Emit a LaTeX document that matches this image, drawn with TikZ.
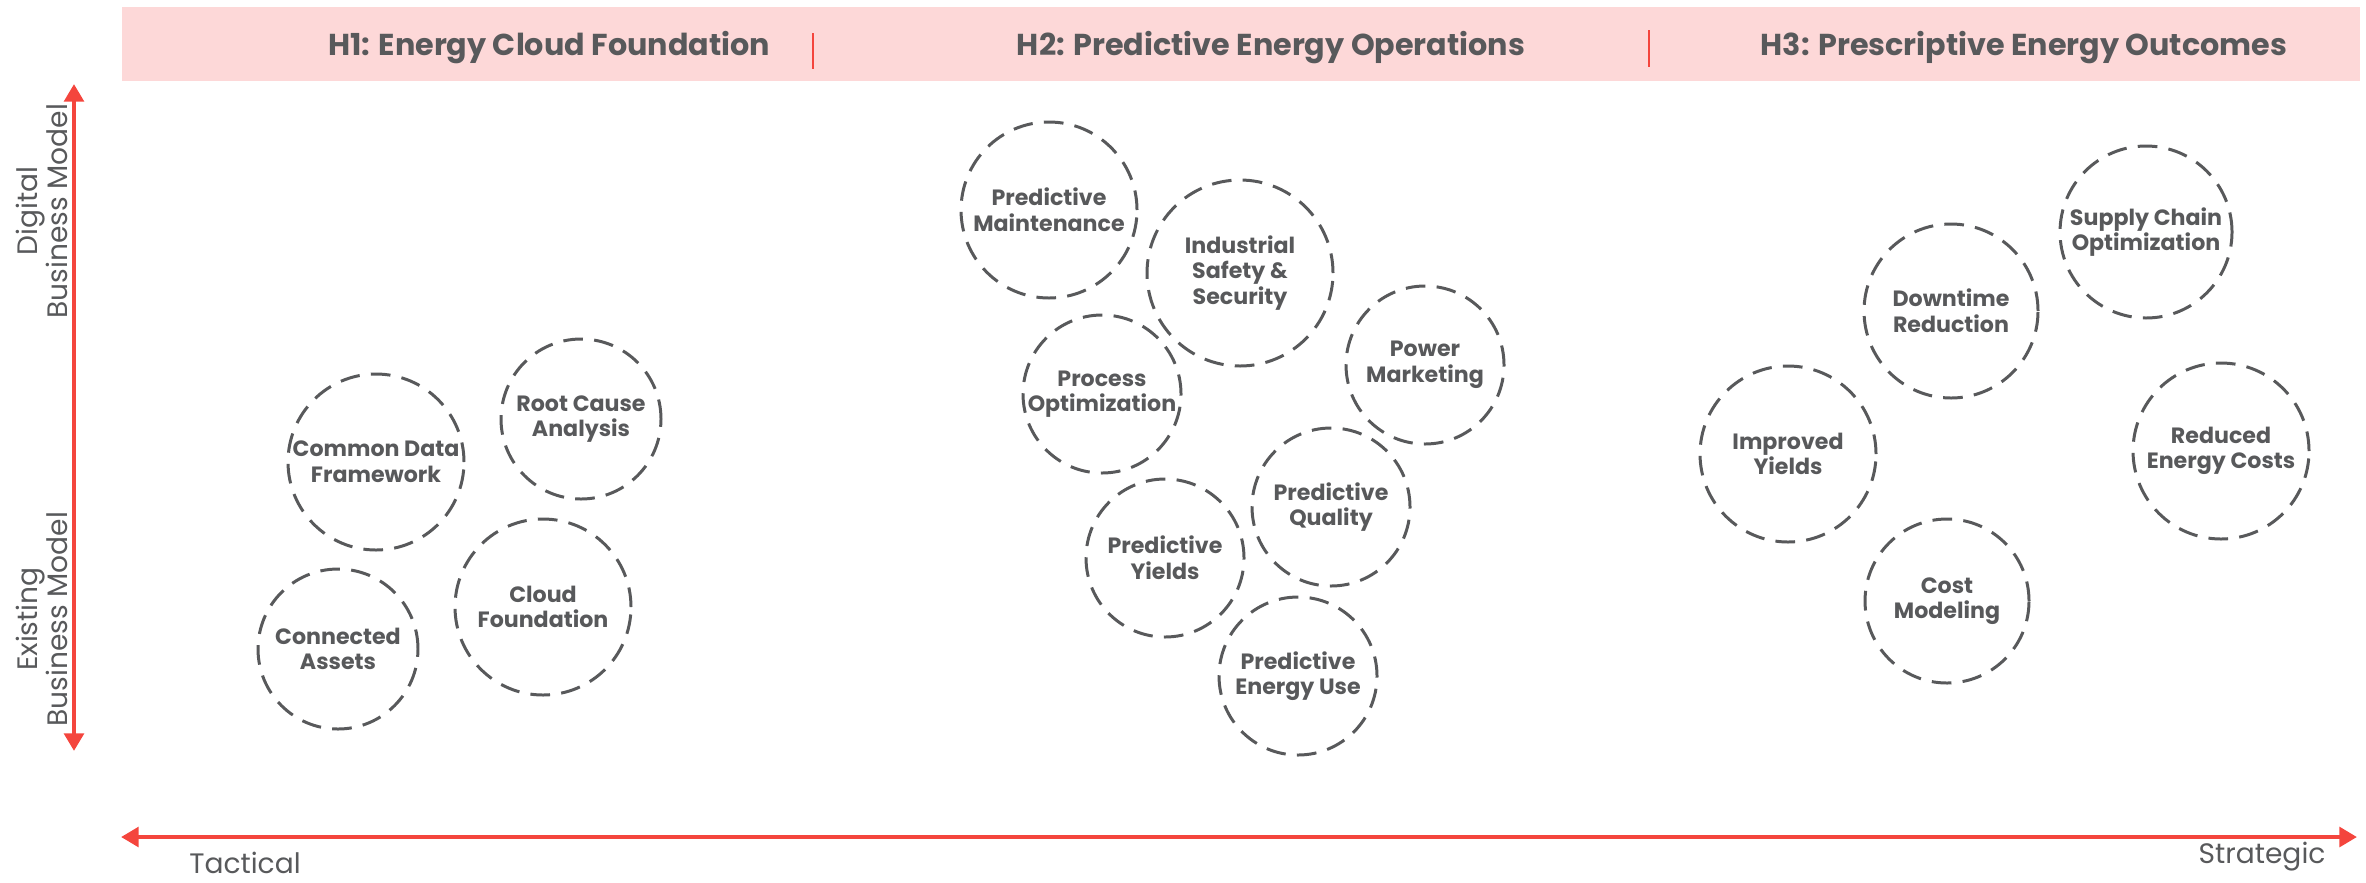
\documentclass[tikz,border=0pt]{standalone}
\usepackage{fontspec}
\setmainfont{Poppins}
\usetikzlibrary{arrows.meta}
\definecolor{bandpink}{HTML}{FDD8D8}
\definecolor{axisred}{HTML}{F4453D}
\definecolor{txtgray}{HTML}{58595B}
\definecolor{ringgray}{HTML}{58595B}
\tikzset{
  ring/.style={circle, draw=ringgray, line width=0.85pt, dash pattern=on 5.6pt off 3.2pt,
    minimum size=#1*0.2mm, inner sep=0pt, align=center, text=txtgray,
    font=\fontsize{6.3}{7.3}\selectfont\bfseries},
  headtxt/.style={text=txtgray, font=\fontsize{8.6}{10}\selectfont\bfseries, inner sep=0pt},
  axislbl/.style={text=txtgray, font=\fontsize{8}{8.6}\selectfont, inner sep=0pt, align=center},
  divider/.style={draw=axisred, line width=0.45pt},
  axis/.style={draw=axisred, line width=1.4pt, {Triangle[length=5pt,width=5.5pt]}-{Triangle[length=5pt,width=5.5pt]}}
}
\begin{document}
\begin{tikzpicture}[x=0.1mm, y=-0.1mm]
\useasboundingbox (0,0) rectangle (2366,882);
% header band
\node (band) [fill=bandpink, anchor=north west, minimum width=223.8mm, minimum height=7.4mm, inner sep=0pt] at (121,6) {};
\node (h1) [headtxt] at (549,48) {H1: Energy Cloud Foundation};
\node (h2) [headtxt] at (1271,48) {H2: Predictive Energy Operations};
\node (h3) [headtxt] at (2024,48) {H3: Prescriptive Energy Outcomes};
\coordinate (d1a) at (813,33); \coordinate (d1b) at (813,69);
\coordinate (d2a) at (1649,30); \coordinate (d2b) at (1649,67);
\draw[divider] (d1a) -- (d1b);
\draw[divider] (d2a) -- (d2b);
% axes
\coordinate (vtop) at (74,84); \coordinate (vbot) at (74,751);
\draw[axis] (vbot) -- (vtop);
\coordinate (hleft) at (121,837); \coordinate (hright) at (2357,837);
\draw[axis] (hleft) -- (hright);
\node (dig) [axislbl, rotate=90] at (42,211) {Digital\\Business Model};
\node (exi) [axislbl, rotate=90] at (42,619) {Existing\\Business Model};
\node (tac) [axislbl] at (245,863) {Tactical};
\node (str) [axislbl] at (2262,857) {Strategic};
% H1
\node (cdf) [ring=88] at (376,462) {Common Data\\Framework};
\node (rca) [ring=80] at (581,419) {Root Cause\\Analysis};
\node (cas) [ring=80] at (338,649) {Connected\\Assets};
\node (clf) [ring=88] at (543,607) {Cloud\\Foundation};
% H2
\node (pm) [ring=88] at (1049,210) {Predictive\\Maintenance};
\node (iss) [ring=93] at (1240,273) {Industrial\\Safety \&\\Security};
\node (po) [ring=79] at (1102,394) {Process\\Optimization};
\node (pmk) [ring=79] at (1425,365) {Power\\Marketing};
\node (pq) [ring=79] at (1331,507) {Predictive\\Quality};
\node (py) [ring=79] at (1165,558) {Predictive\\Yields};
\node (peu) [ring=79] at (1298,676) {Predictive\\Energy Use};
% H3
\node (sco) [ring=86] at (2146,232) {Supply Chain\\Optimization};
\node (dr) [ring=87] at (1951,311) {Downtime\\Reduction};
\node (iy) [ring=88] at (1788,454) {Improved\\Yields};
\node (rec) [ring=88] at (2221,451) {Reduced\\Energy Costs};
\node (cm) [ring=82] at (1947,601) {Cost\\Modeling};
\end{tikzpicture}
\end{document}
